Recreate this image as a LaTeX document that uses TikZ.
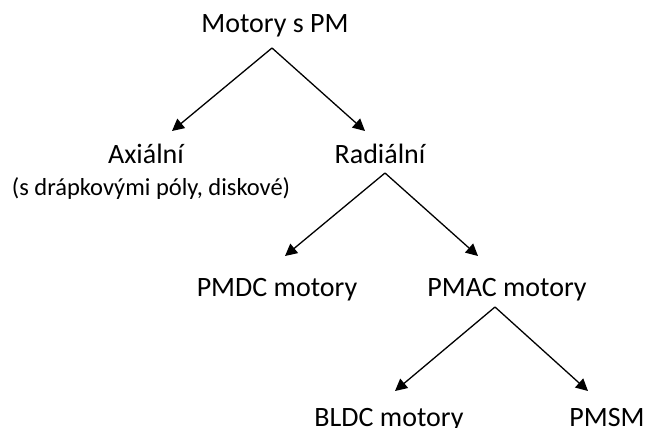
\documentclass[tikz,border=0pt]{standalone}
\usepackage{fontspec}
\setmainfont{Carlito}
\usetikzlibrary{arrows.meta}
\begin{document}
\begin{tikzpicture}[x=1pt,y=-1pt,
  lbl/.style={inner sep=0pt,anchor=base,font=\fontsize{28}{32}\selectfont},
  sublbl/.style={inner sep=0pt,anchor=base,font=\fontsize{24.5}{28}\selectfont},
  link/.style={line width=1.3pt,-{Triangle[length=12pt,width=12pt]}}]
  \useasboundingbox[fill=white] (0,0) rectangle (646,428);

  % labels of the classification tree
  \node[lbl] (root) at (275,33) {Motory s PM};
  \node[lbl] (ax) at (146,163) {Axiální};
  \node[sublbl] (axsub) at (151,195) {(s drápkovými póly, diskové)};
  \node[lbl] (rad) at (380,163) {Radiální};
  \node[lbl] (pmdc) at (277,296) {PMDC motory};
  \node[lbl] (pmac) at (507,296) {PMAC motory};
  \node[lbl] (bldc) at (389,426) {BLDC motory};
  \node[lbl] (pmsm) at (607,426) {PMSM};

  % branching points under each parent and arrow ends above each child
  \coordinate (rootfork) at (272,48);
  \coordinate (axin) at (172,131);
  \coordinate (radin) at (365,131);
  \coordinate (radfork) at (385,173);
  \coordinate (pmdcin) at (285,256);
  \coordinate (pmacin) at (478,256);
  \coordinate (pmacfork) at (495,307);
  \coordinate (bldcin) at (395,391);
  \coordinate (pmsmin) at (588,391);

  \draw[link] (rootfork) -- (axin);
  \draw[link] (rootfork) -- (radin);
  \draw[link] (radfork) -- (pmdcin);
  \draw[link] (radfork) -- (pmacin);
  \draw[link] (pmacfork) -- (bldcin);
  \draw[link] (pmacfork) -- (pmsmin);
\end{tikzpicture}
\end{document}
